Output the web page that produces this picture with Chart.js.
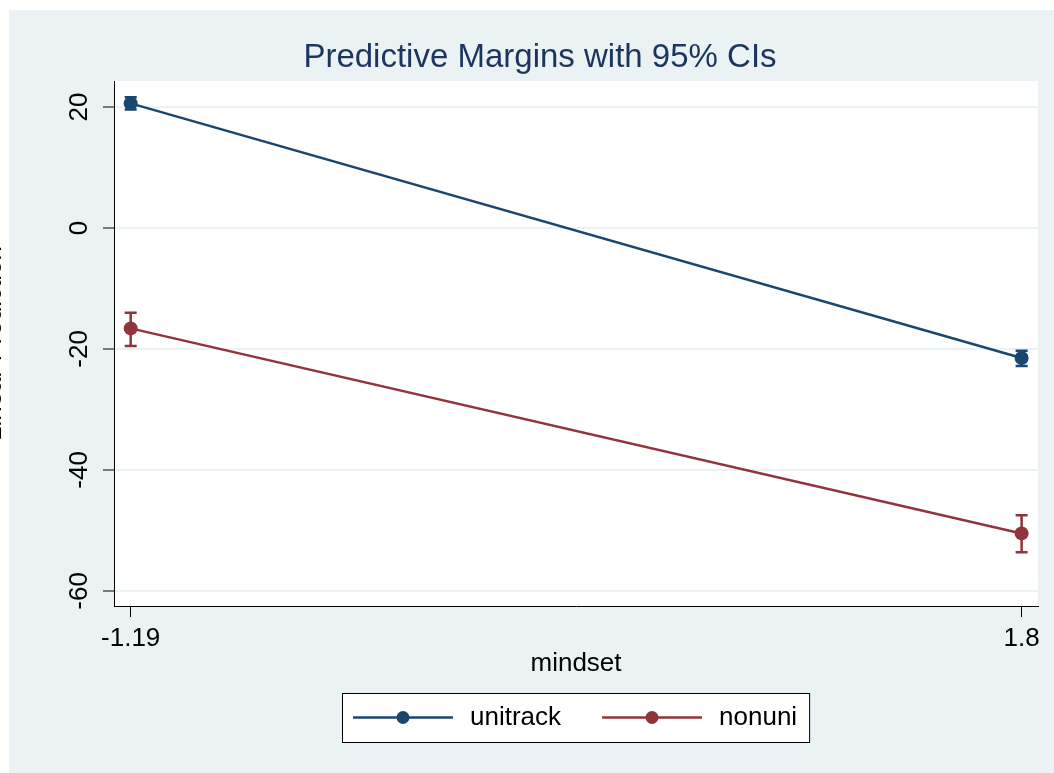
<!DOCTYPE html>
<html>
<head>
<meta charset="utf-8">
<title>Predictive Margins with 95% CIs</title>
<script src="https://cdn.jsdelivr.net/npm/chart.js@4.4.1/dist/chart.umd.min.js"></script>
<style>
  html, body { margin: 0; padding: 0; background: #fff; overflow: hidden; }
  /* shifted left so the y title is cut off like in the original export */
  #wrap { position: absolute; left: -22px; top: 0; width: 1076px; height: 773px; }
</style>
</head>
<body>
<div id="wrap"><canvas id="margins"></canvas></div>
<script>
// mindset levels at which the margins were computed
const xLevels = [-1.19, 1.8];
const xTicks = [-1.19, 1.8];
const yTicks = [-60, -40, -20, 0, 20];

// unitrack: margin and 95% CI
const unitrackMargin = [20.6, -21.5];
const unitrackLower = [19.6, -22.8];
const unitrackUpper = [21.6, -20.3];

// nonuni: margin and 95% CI
const nonuniMargin = [-16.6, -50.5];
const nonuniLower = [-19.5, -53.6];
const nonuniUpper = [-14.0, -47.5];

const FONT = '"Liberation Sans", Arial, Helvetica, sans-serif';
const TITLE = 'Predictive Margins with 95% CIs';
const BG = '#eaf2f3';

Chart.defaults.font.family = FONT;
Chart.defaults.color = '#000';

const toPoints = (ys, lo, hi) => xLevels.map((x, i) => ({ x: x, y: ys[i], lo: lo[i], hi: hi[i] }));

// fondo gris-azulado tipo Stata + zona de trazado blanca
const stataBackground = {
    id: 'stataBackground',
    beforeDraw(chart) {
        const { ctx, chartArea: a } = chart;
        ctx.save();
        ctx.fillStyle = '#fff';
        ctx.fillRect(0, 0, chart.width, chart.height);
        ctx.fillStyle = BG;
        ctx.fillRect(31, 10, chart.width - 31, chart.height - 10);
        ctx.fillStyle = '#fff';
        ctx.fillRect(a.left, a.top, a.right - a.left, a.bottom - a.top);
        ctx.restore();
    }
};

// barras de error (IC 95%) sobre las escalas del gráfico
const errorBars = {
    id: 'errorBars',
    afterDatasetsDraw(chart) {
        const { ctx, scales: { x, y } } = chart;
        chart.data.datasets.forEach(ds => {
            ctx.save();
            ctx.strokeStyle = ds.borderColor;
            ctx.lineWidth = 2.5;
            ds.data.forEach(p => {
                const px = x.getPixelForValue(p.x);
                const top = y.getPixelForValue(p.hi);
                const bot = y.getPixelForValue(p.lo);
                ctx.beginPath();
                ctx.moveTo(px, top); ctx.lineTo(px, bot);
                ctx.moveTo(px - 6, top); ctx.lineTo(px + 6, top);
                ctx.moveTo(px - 6, bot); ctx.lineTo(px + 6, bot);
                ctx.stroke();
            });
            ctx.restore();
        });
    }
};

// título y leyenda enmarcada al estilo Stata
const stataDecor = {
    id: 'stataDecor',
    afterDraw(chart) {
        const { ctx, chartArea: a } = chart;
        ctx.save();
        ctx.font = `33px ${FONT}`;
        ctx.fillStyle = '#1c355e';
        ctx.textAlign = 'center';
        ctx.textBaseline = 'alphabetic';
        ctx.fillText(TITLE, 562, 67);

        const sets = chart.data.datasets;
        ctx.font = `26px ${FONT}`;
        const lineW = 100, gapText = 17, gapItem = 41, padL = 11, padR = 12, h = 49;
        const widths = sets.map(d => ctx.measureText(d.label).width);
        const total = padL + padR + widths.reduce((s, w) => s + lineW + gapText + w, 0) + gapItem * (sets.length - 1);
        const left = Math.round((a.left + a.right) / 2 - total / 2);
        const top = Math.round(a.bottom + 87);
        ctx.fillStyle = '#fff';
        ctx.fillRect(left, top, total, h);
        ctx.strokeStyle = '#000';
        ctx.lineWidth = 1;
        ctx.strokeRect(left + 0.5, top + 0.5, total, h);

        const cy = top + h / 2;
        let x = left + padL;
        sets.forEach((d, i) => {
            ctx.strokeStyle = d.borderColor;
            ctx.lineWidth = 2.5;
            ctx.beginPath();
            ctx.moveTo(x, cy); ctx.lineTo(x + lineW, cy);
            ctx.stroke();
            ctx.fillStyle = d.borderColor;
            ctx.beginPath();
            ctx.arc(x + lineW / 2, cy, 6.5, 0, Math.PI * 2);
            ctx.fill();
            ctx.fillStyle = '#000';
            ctx.textAlign = 'left';
            ctx.textBaseline = 'middle';
            ctx.fillText(d.label, x + lineW + gapText, cy);
            x += lineW + gapText + widths[i] + gapItem;
        });
        ctx.restore();
    }
};

const makeSeries = (label, color, pts) => ({
    label: label,
    data: pts,
    borderColor: color,
    backgroundColor: color,
    borderWidth: 2.5,
    pointRadius: 7,
    pointHoverRadius: 7,
    pointBorderWidth: 0,
    tension: 0
});

new Chart(document.getElementById('margins'), {
    type: 'line',
    data: {
        datasets: [
            makeSeries('unitrack', '#1a476f', toPoints(unitrackMargin, unitrackLower, unitrackUpper)),
            makeSeries('nonuni', '#90353b', toPoints(nonuniMargin, nonuniLower, nonuniUpper))
        ]
    },
    options: {
        responsive: true,
        maintainAspectRatio: false,
        animation: false,
        devicePixelRatio: 1,
        layout: { padding: { left: 0, top: 81, right: 16, bottom: 93.4 } },
        plugins: {
            legend: { display: false },
            title: { display: false },
            tooltip: { enabled: false }
        },
        scales: {
            x: {
                type: 'linear',
                min: -1.246,
                max: 1.855,
                afterBuildTicks: s => { s.ticks = xTicks.map(v => ({ value: v })); },
                afterFit: s => { s.height = 73.6; },
                grid: { drawOnChartArea: false, drawTicks: true, tickLength: 11, tickColor: '#000', tickWidth: 1 },
                border: { color: '#000', width: 1 },
                ticks: {
                    color: '#000',
                    font: { size: 26 },
                    padding: 6,
                    maxRotation: 0,
                    autoSkip: false,
                    callback: v => String(v)
                },
                title: { display: true, text: 'mindset', color: '#000', font: { size: 26 }, padding: 0 }
            },
            y: {
                min: -62.5,
                max: 24.3,
                afterBuildTicks: s => { s.ticks = yTicks.map(v => ({ value: v })); },
                afterFit: s => { s.width = 136; },
                grid: { color: BG, lineWidth: 2, drawTicks: true, tickLength: 11, tickColor: '#000', tickWidth: 1 },
                border: { color: '#000', width: 1 },
                ticks: {
                    color: '#000',
                    font: { size: 26 },
                    padding: 4,
                    minRotation: 90,
                    maxRotation: 90,
                    crossAlign: 'center',
                    autoSkip: false,
                    callback: v => String(v)
                },
                title: { display: true, text: 'Linear Prediction', color: '#000', font: { size: 26 }, padding: 0 }
            }
        }
    },
    plugins: [stataBackground, errorBars, stataDecor]
});
</script>
</body>
</html>
